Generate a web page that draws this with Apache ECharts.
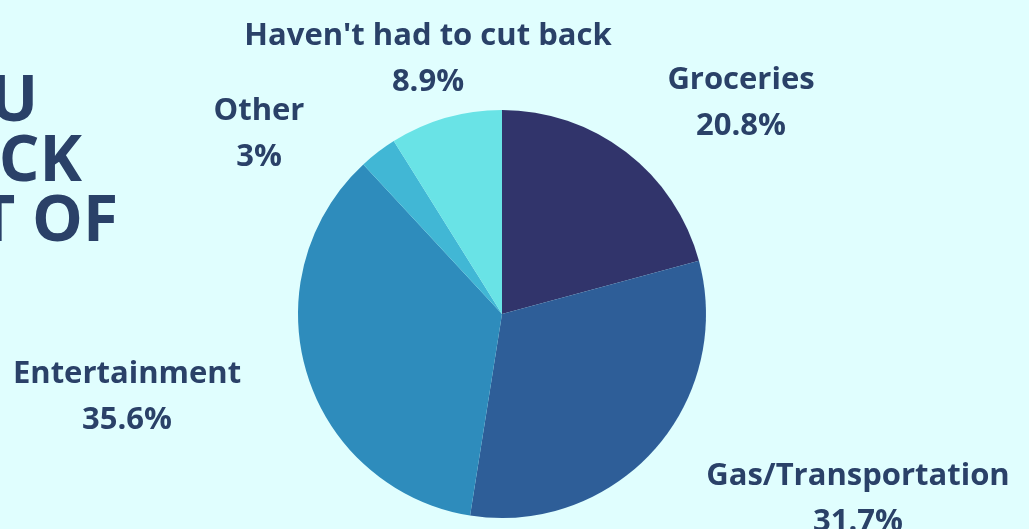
<!DOCTYPE html>
<html>
<head>
	<meta http-equiv="Content-Type" content="text/html; charset=utf-8" />
	<title></title>
	<script src="https://cdn.jsdelivr.net/npm/echarts@6/dist/echarts.min.js"></script>
</head>
<body style="padding: 0;margin: 0;background: #e0fefe;">
<div id="main" style="width: 1029px;height:529px;"></div>

<script type="text/javascript">
	// 数据
	var categories = ["Groceries", "Gas/Transportation", "Entertainment", "Other", "Haven't had to cut back"];
	var values = [20.8, 31.7, 35.6, 3, 8.9];
	var colors = ['#31346b', '#2e5e98', '#2e8cbc', '#41b7d5', '#69e3e6'];
	// 标签位置 (像素)
	var labelPos = [[741, 103], [858, 499], [127, 397], [259, 134], [428, 59]];

	var pieData = [];
	for (var i = 0; i < categories.length; i++) {
		pieData.push({ name: categories[i], value: values[i], itemStyle: { color: colors[i] } });
	}

	var titleFont = '700 64px "Open Sans"';
	var myChart = echarts.init(document.getElementById('main'));
	var option = {
		backgroundColor: '#e0fefe',
		animation: false,
		graphic: [
			{ type: 'text', right: 991, top: 71, style: { text: 'DID YOU', font: titleFont, fill: '#2a4168', textAlign: 'right' } },
			{ type: 'text', right: 947, top: 131, style: { text: 'CUT BACK', font: titleFont, fill: '#2a4168', textAlign: 'right' } },
			{ type: 'text', right: 911, top: 191, style: { text: 'AS A RESULT OF', font: titleFont, fill: '#2a4168', textAlign: 'right' } }
		],
		series: [{
			type: 'pie',
			center: [502, 314],
			radius: 204,
			startAngle: 90,
			clockwise: true,
			data: pieData,
			itemStyle: { borderWidth: 0 },
			label: {
				show: true,
				position: 'outside',
				formatter: '{b}\n{c}%',
				fontFamily: 'Open Sans',
				fontWeight: 700,
				fontSize: 31,
				lineHeight: 46,
				color: '#2a4168',
				align: 'center'
			},
			labelLine: { show: false },
			labelLayout: function (params) {
				var p = labelPos[params.dataIndex];
				return { x: p[0], y: p[1], align: 'center', verticalAlign: 'middle' };
			},
			emphasis: { disabled: true }
		}]
	};
	myChart.setOption(option);
</script>
</body>
</html>
